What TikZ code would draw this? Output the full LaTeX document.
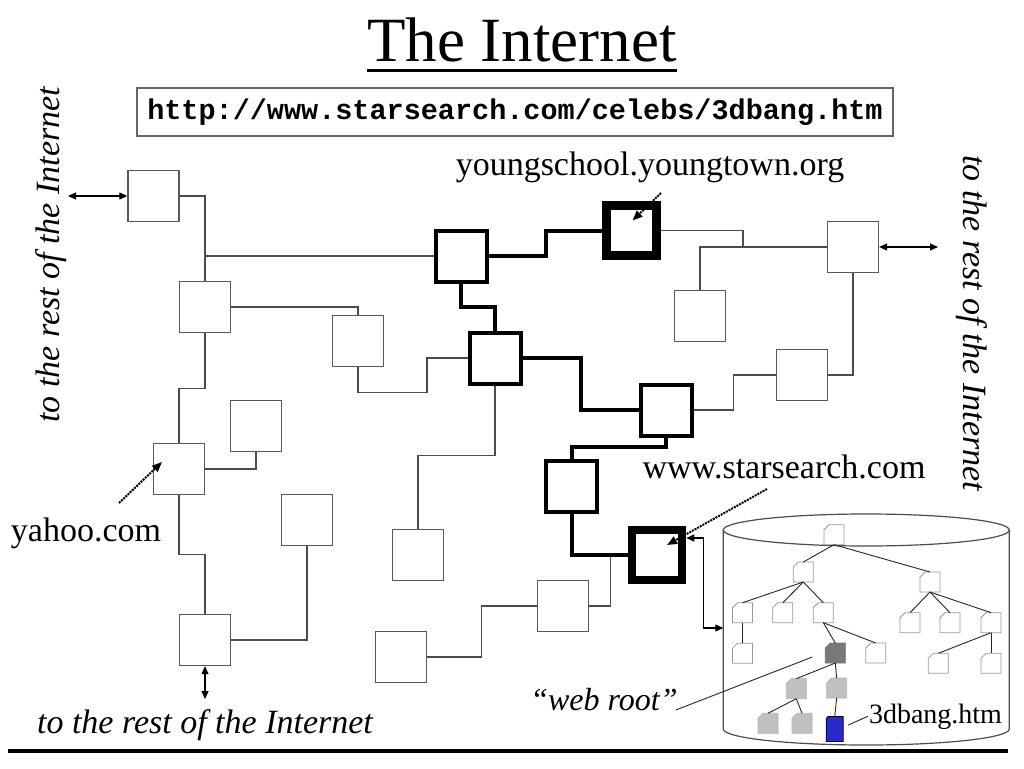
\documentclass[tikz,border=0pt]{standalone}
\usepackage{fontspec}
\setmainfont{Liberation Serif}
\newfontfamily\urlfont{Liberation Mono}
\usetikzlibrary{arrows.meta}
\def\docfill{white}\def\docdraw{black!40}\def\docear{5pt}
\tikzset{
  host/.style={draw=black!65,line width=1.3pt,fill=white,minimum size=51pt,inner sep=0pt},
  router/.style={host,draw=black,line width=4pt},
  server/.style={host,draw=black,line width=8.5pt,minimum size=50pt},
  link/.style={black!70,line width=1.3pt},
  route/.style={black,line width=4pt},
  ext/.style={{Triangle[length=8pt,width=7pt]}-{Triangle[length=8pt,width=7pt]},black,line width=1.2pt},
  pointer/.style={-{Triangle[length=10pt,width=8pt]},black,densely dotted,line width=2pt},
  docfill/.code={\gdef\docfill{#1}}, docdraw/.code={\gdef\docdraw{#1}}, docear/.code={\gdef\docear{#1}},
  doc/.style={docfill=white,docdraw=black!40,docear=5pt,
    minimum width=20pt,minimum height=20pt,inner sep=0pt,outer sep=0pt,
    append after command={\pgfextra{\draw[fill=\docfill,draw=\docdraw,line width=0.8pt]
      (\tikzlastnode.north east) -- ([xshift=\docear]\tikzlastnode.north west)
      -- ([yshift=-\docear]\tikzlastnode.north west) -- (\tikzlastnode.south west)
      -- (\tikzlastnode.south east) -- cycle;}}},
  tree/.style={black!85,line width=0.9pt},
  lbl/.style={font=\fontsize{34}{40}\selectfont,inner sep=0pt,anchor=base},
  itl/.style={font=\fontsize{34}{40}\selectfont\itshape,inner sep=0pt,anchor=base}
}
\definecolor{rootgray}{RGB}{120,120,120}
\definecolor{pathgray}{RGB}{192,192,192}
\definecolor{pageblue}{RGB}{40,40,205}
\begin{document}
\begin{tikzpicture}[x=1pt,y=-1pt]
\useasboundingbox (0,0) rectangle (1024,768);
% titles
\node[inner sep=0pt,anchor=base,font=\fontsize{63}{70}\selectfont] (title) at (522,62) {The Internet};
\draw[line width=3pt] ([yshift=-8pt]title.base west) -- ([yshift=-8pt]title.base east);
\node[draw=black!60,line width=1.2pt,minimum width=756pt,minimum height=48pt,inner sep=0pt,
  font=\urlfont\bfseries\fontsize{28.5}{32}\selectfont] (url) at (515,112) {http://www.starsearch.com/celebs/3dbang.htm};
% hosts
\node[host] (nwA) at (153.5,196) {};
\node[host] (nwB) at (205,307) {};
\node[host] (nwD) at (358,341) {};
\node[host] (yahoo) at (179,469) {};
\node[host] (nwG) at (256,426) {};
\node[host] (nwI) at (205,640) {};
\node[host] (nwJ) at (307,520) {};
\node[host] (nwH) at (418,555) {};
\node[host] (nwK) at (401,657) {};
\node[host] (nwL) at (563,606) {};
\node[host] (nwQ) at (853,247) {};
\node[host] (nwR) at (700,316) {};
\node[host] (nwS) at (802,375) {};
% routers on the path
\node[router] (rC) at (461,256) {};
\node[router] (rE) at (495,358) {};
\node[router] (rP) at (666,410) {};
\node[router] (rN) at (571.5,486) {};
\node[server] (young) at (631.5,230.5) {};
\node[server] (stars) at (657,555) {};
% thin links
\draw[link] (nwA.east) -| (nwB.north);
\draw[link] (nwB.north |- rC.west) -- (rC.west);
\draw[link] (nwB.east) -| (nwD.north);
\draw[link] (nwD.south) -- ++(0,25) -| ([xshift=-40.5pt]rE.west) -- (rE.west);
\draw[link] (nwB.south) -- ++(0,55) -| (yahoo.north);
\draw[link] (yahoo.east) -| (nwG.south);
\draw[link] (yahoo.south) -- ++(0,59) -| (nwI.north);
\draw[link] (nwI.east) -| (nwJ.south);
\draw[link] (rE.south) -- ++(0,70) -| (nwH.north);
\draw[link] (nwK.east) -- ++(54.6,0) |- (nwL.west);
\draw[link] (nwL.east) -| ([xshift=-17pt]stars.west);
\draw[link] (young.east) -| ([xshift=-84pt]nwQ.west);
\draw[link] (nwQ.west) -| (nwR.north);
\draw[link] (nwQ.south) |- (nwS.east);
\draw[link] (nwS.west) -- ++(-42.5,0) |- (rP.east);
% thick route
\draw[route] (rC.east) -| ([xshift=-56pt]young.west) -- (young.west);
\draw[route] (rC.south) -- ++(0,23) -| (rE.north);
\draw[route] (rE.east) -| ([xshift=-58pt]rP.west) -- (rP.west);
\draw[route] (rP.south) -- ++(0,9) -| (rN.north);
\draw[route] (rN.south) |- (stars.west);
% rest of the Internet
\coordinate (extL) at (68,196);
\coordinate (extB) at (205,699);
\coordinate (extR) at (938,247);
\draw[ext] (nwA.west) -- (extL);
\draw[ext] (nwI.south) -- (extB);
\draw[ext] (nwQ.east) -- (extR);
\node[itl,rotate=90] (restL) at (59,255) {to the rest of the Internet};
\node[itl,rotate=-90] (restR) at (963,323) {to the rest of the Internet};
\node[itl] (restB) at (205,733) {to the rest of the Internet};
% labels and pointers
\node[lbl] (ylbl) at (650,175) {youngschool.youngtown.org};
\node[lbl] (slbl) at (784,478) {www.starsearch.com};
\node[lbl] (hlbl) at (86,541) {yahoo.com};
\coordinate (yStart) at (661,193);
\coordinate (sStart) at (767,489);
\coordinate (hStart) at (119,503);
\draw[pointer] (yStart) -- ([shift={(1,-10)}]young.center);
\draw[pointer] (sStart) -- ([shift={(10,-10)}]stars.center);
\draw[pointer] (hStart) -- ([shift={(-17,-7)}]yahoo.center);
% disk
\draw[black!70,line width=1.2pt] (723.3,530) -- (723.3,729) arc[start angle=180,end angle=0,x radius=143,y radius=16] -- (1009.3,530);
\draw[black!70,line width=1.2pt] (866.3,530) ellipse [x radius=143,y radius=16];
\coordinate (diskin) at (723.3,628);
\draw[ext] ([yshift=17pt]stars.east) -- ++(17,0) |- (diskin);
% file tree
\node[doc] (root) at (834,534.7) {};
\node[doc] (d1) at (803.3,572) {};
\node[doc] (d2) at (930,582) {};
\node[doc] (d11) at (742.5,612.7) {};
\node[doc] (d12) at (782.7,612.7) {};
\node[doc] (d13) at (823.3,612.7) {};
\node[doc] (d21) at (910,622.7) {};
\node[doc] (d22) at (950,622.7) {};
\node[doc] (d23) at (991,622.7) {};
\node[doc] (d111) at (742.5,653.3) {};
\node[doc,docfill=rootgray,docdraw=black!55] (webroot) at (835.3,653) {};
\node[doc] (d132) at (875.7,653) {};
\node[doc] (d231) at (938.3,663.3) {};
\node[doc] (d232) at (991,663.3) {};
\node[doc,docfill=pathgray,docdraw=black!30] (w1) at (796.3,688.7) {};
\node[doc,docfill=pathgray,docdraw=black!30] (w2) at (836.7,688) {};
\node[doc,docfill=pathgray,docdraw=black!30] (w11) at (768,723.3) {};
\node[doc,docfill=pathgray,docdraw=black!30] (w12) at (802,723.3) {};
\node[doc,docfill=pageblue,docdraw=black,docear=2pt,minimum width=17pt,minimum height=25pt] (page) at (834.7,729) {};
\foreach \a/\b in {root/d1,root/d2,d1/d11,d1/d12,d1/d13,d2/d21,d2/d22,d2/d23,d11/d111,
  d13/webroot,d13/d132,d23/d231,d23/d232,webroot/w1,webroot/w2,w1/w11,w1/w12,w2/page}
  \draw[tree] (\a.south) -- (\b.north);
\node[itl,font=\fontsize{32}{38}\selectfont\itshape] (wlbl) at (604,710) {“web root”};
\draw[tree] ([xshift=-2pt]wlbl.base east) -- ([shift={(-13,4)}]webroot.west);
\node[lbl,font=\fontsize{28}{32}\selectfont] (fname) at (935.5,723) {3dbang.htm};
\draw[tree] ([shift={(5,-4)}]page.east) -- ([xshift=-1pt]fname.west);
% bottom rule
\draw[line width=4.5pt] (8,751) -- (1008,751);
\end{tikzpicture}
\end{document}
